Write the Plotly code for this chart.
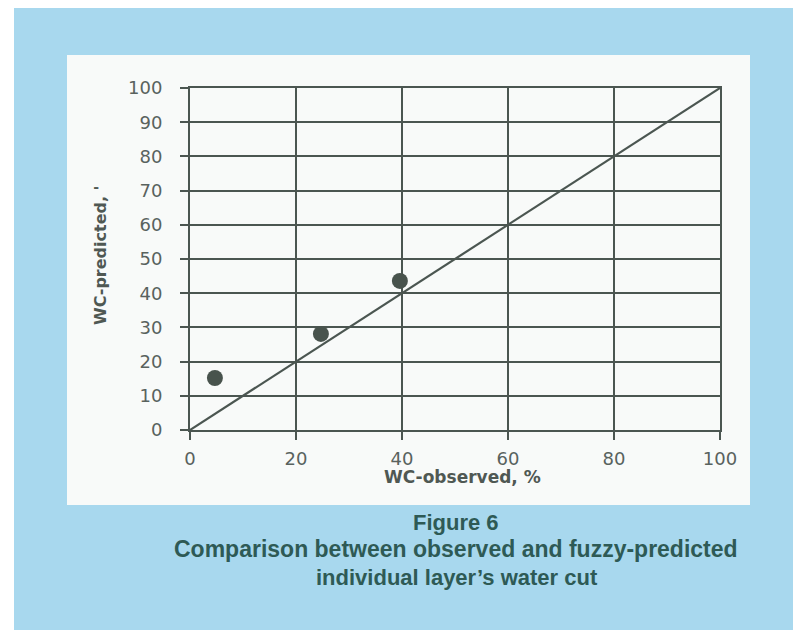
import plotly.graph_objects as go

# Data
wc_observed = [4.7, 24.7, 39.6]
wc_predicted = [15.2, 28.1, 43.6]
line_x = [0, 100]
line_y = [0, 100]
x_ticks = [0, 20, 40, 60, 80, 100]
y_ticks = [0, 10, 20, 30, 40, 50, 60, 70, 80, 90, 100]

W, H = 793, 630
L, R, T, B = 190, 73, 88, 200
pw, ph = W - L - R, H - T - B

def px(x):
    return (x - L) / pw

def py(y):
    return (H - B - y) / ph

DARK = "#4b5651"
TICK = "#59625e"
BLUE = "#a8d8ee"
CAP = "#2e5a55"

fig = go.Figure()
fig.add_trace(go.Scatter(x=line_x, y=line_y, mode="lines",
                         line=dict(color=DARK, width=2.2), hoverinfo="skip"))
fig.add_trace(go.Scatter(x=wc_observed, y=wc_predicted, mode="markers",
                         marker=dict(size=16, color="#48534d", line=dict(width=0))))

shapes = [
    dict(type="rect", xref="paper", yref="paper", x0=px(14), x1=px(W + 5), y0=py(H + 5), y1=py(8),
         fillcolor=BLUE, line=dict(width=0), layer="below"),
    dict(type="rect", xref="paper", yref="paper", x0=px(67), x1=px(750), y0=py(505), y1=py(55),
         fillcolor="#f8faf9", line=dict(width=0), layer="below"),
]

annotations = [
    dict(text="WC-observed, %", xref="paper", yref="paper", x=px(462), y=py(477),
         showarrow=False, font=dict(family="DejaVu Sans", size=17, color="#4f5853", weight="bold"),
         xanchor="center", yanchor="middle"),
    dict(text="WC-predicted, '", xref="paper", yref="paper", x=px(100), y=py(255),
         showarrow=False, textangle=-90,
         font=dict(family="DejaVu Sans", size=16, color="#4f5853", weight="bold"),
         xanchor="center", yanchor="middle"),
    dict(text="Figure 6", xref="paper", yref="paper", x=px(456), y=py(522),
         showarrow=False, font=dict(family="Liberation Sans", size=22, color=CAP, weight="bold"),
         xanchor="center", yanchor="middle"),
    dict(text="Comparison between observed and fuzzy-predicted", xref="paper", yref="paper",
         x=px(456), y=py(549), showarrow=False,
         font=dict(family="Liberation Sans", size=23, color=CAP, weight="bold"),
         xanchor="center", yanchor="middle"),
    dict(text="individual layer\u2019s water cut", xref="paper", yref="paper",
         x=px(457), y=py(577), showarrow=False,
         font=dict(family="Liberation Sans", size=22, color=CAP, weight="bold"),
         xanchor="center", yanchor="middle"),
]

fig.update_layout(
    width=W, height=H,
    margin=dict(l=L, r=R, t=T, b=B),
    paper_bgcolor="white",
    plot_bgcolor="#f8faf9",
    showlegend=False,
    shapes=shapes,
    annotations=annotations,
)
fig.update_xaxes(range=[0, 100], tickvals=x_ticks, showgrid=True, gridcolor=DARK, gridwidth=1.5,
                 zeroline=False, showline=True, linecolor=DARK, linewidth=2, mirror=True,
                 ticks="outside", ticklen=8, tickcolor=DARK, tickwidth=1.5,
                 tickfont=dict(family="DejaVu Sans", size=18, color=TICK),
                 ticklabelstandoff=3)
fig.update_yaxes(range=[0, 100], tickvals=y_ticks, showgrid=True, gridcolor=DARK, gridwidth=1.5,
                 zeroline=False, showline=True, linecolor=DARK, linewidth=2, mirror=True,
                 ticks="outside", ticklen=8, tickcolor=DARK, tickwidth=1.5,
                 tickfont=dict(family="DejaVu Sans", size=18, color=TICK),
                 ticklabelstandoff=14)

fig.write_html("out.html", config={"displayModeBar": False},
               post_script="document.body.style.margin='0';document.body.style.overflow='hidden';")
